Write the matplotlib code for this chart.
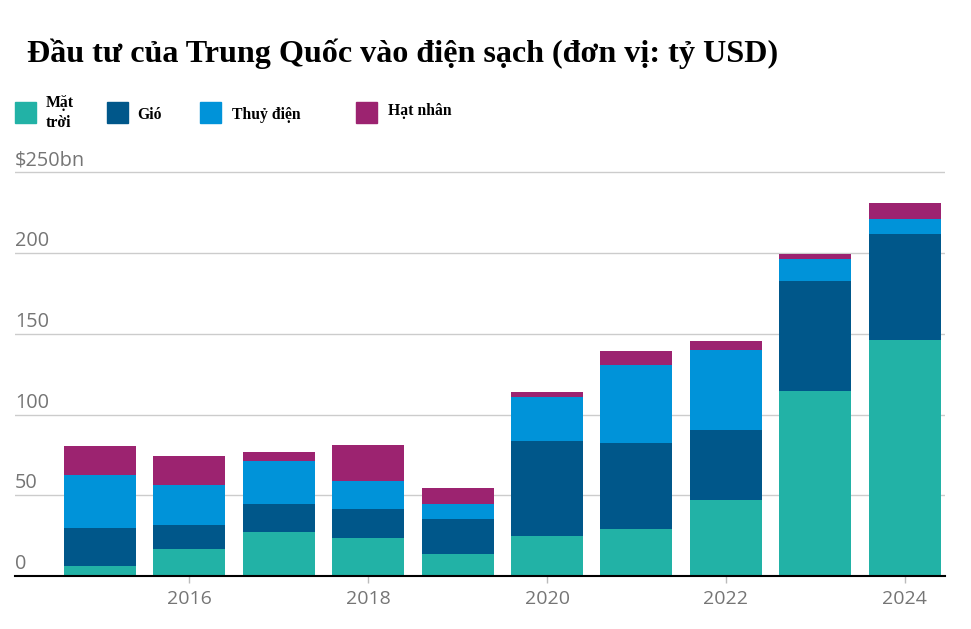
import numpy as np
import matplotlib.pyplot as plt
from matplotlib.patches import Rectangle

# data (tỷ USD)
years = [2015, 2016, 2017, 2018, 2019, 2020, 2021, 2022, 2023, 2024]
solar = [6.2, 16.7, 27.3, 23.5, 13.6, 24.8, 29.1, 47.1, 114.6, 146.2]
wind = [23.5, 14.9, 17.3, 18.0, 21.7, 58.9, 53.3, 43.4, 68.2, 65.7]
hydro = [32.8, 24.8, 26.8, 17.3, 9.3, 27.3, 48.3, 49.6, 13.6, 9.3]
nuclear = [18.0, 18.0, 5.4, 22.3, 9.9, 3.1, 8.7, 5.6, 3.1, 9.9]

series_names = ['Mặt\ntrời', 'Gió', 'Thuỷ điện', 'Hạt nhân']
colors = ['#22b2a6', '#00578a', '#0093d9', '#9c2370']
ytick_vals = [0, 50, 100, 150, 200, 250]
ytick_labels = ['0', '50', '100', '150', '200', '$250bn']
xtick_vals = [2016, 2018, 2020, 2022, 2024]

W, H = 971, 629
fig = plt.figure(figsize=(W / 100, H / 100), dpi=100)

# axes placed in pixel terms: 0 at y=576, 1 unit = 1.614 px
ymax = 260
y0 = 576
top = y0 - ymax * 1.614
ax = fig.add_axes([15 / W, 1 - y0 / H, (945 - 15) / W, (y0 - top) / H])

bottom = np.zeros(len(years))
for vals, c in zip([solar, wind, hydro, nuclear], colors):
    ax.bar(years, vals, bottom=bottom, width=0.805, color=c, zorder=3)
    bottom += np.array(vals)

ax.set_xlim(2014.05, 2024.45)
ax.set_ylim(0, ymax)

for v, lab in zip(ytick_vals, ytick_labels):
    if v > 0:
        ax.axhline(v, color='#cccccc', lw=1, zorder=1)
    ax.annotate(lab, xy=(0, v), xycoords=ax.get_yaxis_transform(),
                xytext=(0, 5), textcoords='offset points',
                ha='left', va='baseline', fontsize=14.3, color='#757575',
                family='Open Sans')

ax.set_yticks([])
ax.set_xticks(xtick_vals)
ax.set_xticklabels([str(x) for x in xtick_vals], family='Open Sans')
ax.tick_params(axis='x', length=5, width=1, color='#bbbbbb',
               labelcolor='#757575', labelsize=14, pad=5)

for s in ['top', 'right', 'left']:
    ax.spines[s].set_visible(False)
ax.spines['bottom'].set_color('black')
ax.spines['bottom'].set_linewidth(1.5)
ax.spines['bottom'].set_zorder(4)

# title
fig.text(27 / W, 1 - 62 / H, 'Đầu tư của Trung Quốc vào điện sạch (đơn vị: tỷ USD)',
         family='Liberation Serif', weight='bold', fontsize=23.1, va='baseline')

# legend drawn by hand
leg_x = [15, 107, 200, 356]
txt_x = [46, 137, 232, 388]
txt_y = [113, 115, 115, 111]
for lx, tx, ty, name, c in zip(leg_x, txt_x, txt_y, series_names, colors):
    fig.add_artist(Rectangle((lx / W, 1 - 123 / H), 21 / W, 21 / H,
                             color=c, transform=fig.transFigure))
    fig.text(tx / W, 1 - ty / H, name, family='Liberation Serif',
             weight='bold', fontsize=11.3, va='center', linespacing=1.3)

fig.savefig('out.png', dpi=100)
